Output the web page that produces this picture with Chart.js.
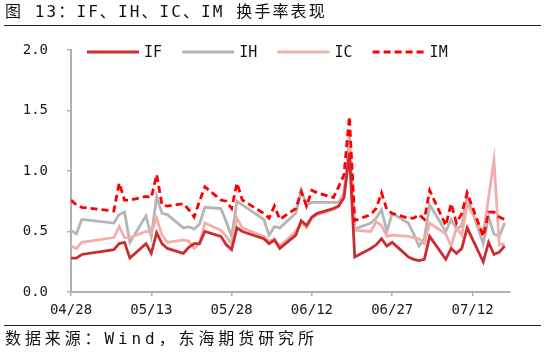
<!DOCTYPE html>
<html>
<head>
<meta charset="utf-8">
<script src="https://cdn.jsdelivr.net/npm/chart.js@4.4.0/dist/chart.umd.min.js"></script>
<style>
html,body{margin:0;padding:0;background:#fff;width:545px;height:356px;overflow:hidden;}
#wrap{position:relative;width:545px;height:356px;}
canvas{position:absolute;left:0;top:0;}
.title{position:absolute;left:5px;top:2px;font-family:"DejaVu Sans Mono","Noto Sans CJK SC";font-size:16px;letter-spacing:2.1px;color:#111;white-space:nowrap;line-height:20px;}
.rule{position:absolute;left:4px;width:537px;height:0;border-top:1.5px solid #222;}
.src{position:absolute;left:5px;top:329px;font-family:"DejaVu Sans Mono","Noto Sans CJK SC";font-size:16px;letter-spacing:3.9px;color:#111;white-space:nowrap;line-height:20px;}
</style>
</head>
<body>
<div id="wrap">
<canvas id="c" width="545" height="356"></canvas>
<div class="title">图 13：IF、IH、IC、IM 换手率表现</div>
<div class="rule" style="top:25px"></div>
<div class="rule" style="top:325px"></div>
<div class="src">数据来源：Wind，东海期货研究所</div>
</div>
<script>
const year = 2025;
const startDate = '04/28';
const dates = ['04/28','04/29','04/30','05/06','05/07','05/08','05/09','05/12','05/13','05/14','05/15','05/16',
  '05/19','05/20','05/21','05/22','05/23','05/26','05/27','05/28','05/29','05/30','06/03','06/04','06/05','06/06',
  '06/09','06/10','06/11','06/12','06/13','06/16','06/17','06/18','06/19','06/20','06/23','06/24','06/25','06/26','06/27',
  '06/30','07/01','07/02','07/03','07/04','07/07','07/08','07/09','07/10','07/11','07/14','07/15','07/16','07/17','07/18'];
const seriesNames = ['IF','IH','IC','IM'];
const IF = [0.28,0.28,0.31,0.35,0.40,0.41,0.28,0.40,0.32,0.49,0.40,0.36,0.32,0.37,0.40,0.40,0.50,0.46,0.39,0.35,0.53,0.50,0.44,0.40,0.43,0.36,0.47,0.59,0.55,0.62,0.65,0.69,0.71,0.78,1.15,0.29,0.36,0.39,0.44,0.38,0.41,0.29,0.27,0.26,0.27,0.46,0.27,0.36,0.32,0.36,0.53,0.25,0.41,0.31,0.33,0.38];
const IH = [0.51,0.48,0.60,0.57,0.64,0.66,0.41,0.63,0.46,0.79,0.65,0.64,0.53,0.54,0.52,0.56,0.70,0.69,0.58,0.46,0.75,0.72,0.60,0.47,0.54,0.53,0.65,0.84,0.72,0.74,0.74,0.74,0.74,0.82,1.28,0.52,0.57,0.61,0.68,0.50,0.65,0.57,0.48,0.38,0.44,0.72,0.50,0.60,0.52,0.55,0.79,0.40,0.62,0.48,0.46,0.57];
const IC = [0.38,0.36,0.41,0.45,0.54,0.45,0.45,0.50,0.49,0.61,0.47,0.41,0.43,0.42,0.36,0.40,0.57,0.51,0.46,0.40,0.61,0.53,0.46,0.42,0.44,0.38,0.50,0.57,0.53,0.61,0.64,0.68,0.71,0.82,1.20,0.51,0.50,0.58,0.55,0.46,0.47,0.46,0.45,0.44,0.40,0.57,0.48,0.38,0.53,0.47,0.73,0.48,0.78,1.09,0.39,0.40];
const IM = [0.76,0.72,0.70,0.67,0.90,0.76,0.76,0.79,0.78,0.97,0.72,0.71,0.73,0.68,0.62,0.75,0.87,0.76,0.75,0.69,0.90,0.76,0.65,0.61,0.71,0.60,0.69,0.83,0.71,0.84,0.82,0.78,0.87,0.97,1.45,0.59,0.64,0.69,0.82,0.68,0.65,0.61,0.61,0.64,0.60,0.84,0.55,0.73,0.57,0.65,0.82,0.46,0.66,0.66,0.62,0.60];
const xTickLabels = ['04/28','05/13','05/28','06/12','06/27','07/12'];
const xEndDate = '07/19';
const yTicks = [0,0.5,1.0,1.5,2.0];

function toUTC(s){const [m,d]=s.split('/').map(Number);return Date.UTC(year,m-1,d);}
const DAY = 86400000;
const t0 = toUTC(startDate);
function dayOff(s){return Math.round((toUTC(s)-t0)/DAY);}
function offToLabel(v){const dt=new Date(t0+v*DAY);return String(dt.getUTCMonth()+1).padStart(2,'0')+'/'+String(dt.getUTCDate()).padStart(2,'0');}
function pts(arr){return arr.map((v,i)=>({x:dayOff(dates[i]),y:v}));}

const styles = {
  IF:{color:'#cc2b30',dash:[],order:1},
  IH:{color:'#b5b5b5',dash:[],order:3},
  IC:{color:'#f2adad',dash:[],order:2},
  IM:{color:'#ff0000',dash:[7,4],order:0}
};
const values = {IF,IH,IC,IM};
const datasets = seriesNames.map(n=>({
  label:n, data:pts(values[n]), borderColor:styles[n].color, backgroundColor:styles[n].color,
  borderWidth:2.8, borderDash:styles[n].dash, pointRadius:0, tension:0, order:styles[n].order,
  borderCapStyle:'butt', borderJoinStyle:'miter'
}));

const monoFont = {family:'"DejaVu Sans Mono"', size:14};

const legendPlugin = {
  id:'customLegend',
  afterDraw(chart){
    const ctx = chart.ctx;
    const a = chart.chartArea;
    const y = 52;
    ctx.save();
    chart.data.datasets.forEach((ds,i)=>{
      const x0 = a.left + 16 + i*95.2;
      ctx.beginPath();
      ctx.strokeStyle = ds.borderColor;
      ctx.lineWidth = 3;
      ctx.setLineDash(ds.borderDash||[]);
      ctx.moveTo(x0,y); ctx.lineTo(x0+52,y);
      ctx.stroke();
      ctx.setLineDash([]);
      ctx.fillStyle = '#111';
      ctx.font = '15px "DejaVu Sans Mono"';
      ctx.textBaseline = 'middle';
      ctx.textAlign = 'left';
      ctx.fillText(ds.label, x0+57, y+1);
    });
    ctx.restore();
  }
};

new Chart(document.getElementById('c'), {
  type:'line',
  data:{datasets},
  options:{
    responsive:false, animation:false, devicePixelRatio:1,
    layout:{padding:{left:0,right:35,top:50,bottom:34}},
    plugins:{legend:{display:false},tooltip:{enabled:false}},
    scales:{
      x:{
        type:'linear', min:0, max:dayOff(xEndDate),
        afterBuildTicks(s){s.ticks = xTickLabels.map(l=>({value:dayOff(l)}));},
        afterFit(s){s.height = 30;},
        ticks:{callback:(v)=>offToLabel(v), font:monoFont, color:'#1a1a1a', padding:6, maxRotation:0, autoSkip:false},
        grid:{display:true, drawOnChartArea:false, drawTicks:true, tickLength:4, color:'#b0b0b0', lineWidth:1.5},
        border:{display:true,color:'#b0b0b0',width:2}
      },
      y:{
        min:0, max:2,
        afterBuildTicks(s){s.ticks = yTicks.map(v=>({value:v}));},
        afterFit(s){s.width = 71;},
        ticks:{callback:(v)=>Number(v).toFixed(1), font:monoFont, color:'#1a1a1a', padding:19},
        grid:{display:true, drawOnChartArea:false, drawTicks:true, tickLength:4, color:'#b0b0b0', lineWidth:1.5},
        border:{display:true,color:'#b0b0b0',width:2}
      }
    }
  },
  plugins:[legendPlugin]
});
</script>
</body>
</html>
